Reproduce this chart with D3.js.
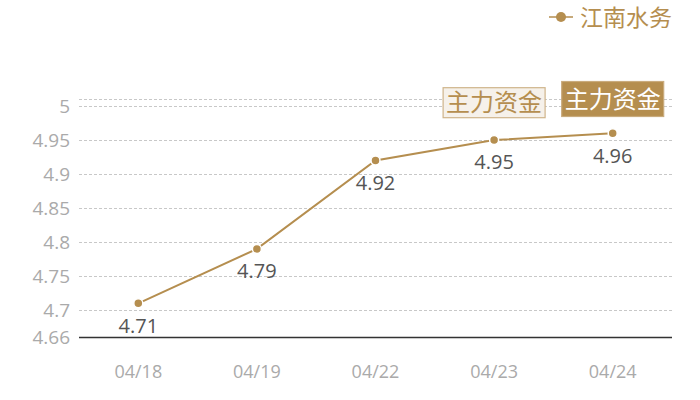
<!DOCTYPE html>
<html><head><meta charset="utf-8">
<script src="https://cdn.jsdelivr.net/npm/d3@7/dist/d3.min.js"></script>
<style>
html,body{margin:0;padding:0;background:#fff;}
svg{display:block;font-family:"Open Sans","Noto Sans CJK SC",sans-serif;}
.cjk{font-family:"Noto Sans CJK SC","Open Sans",sans-serif;}
</style></head><body>
<svg id="c" width="700" height="400"></svg>
<script>
const categories = ["04/18","04/19","04/22","04/23","04/24"];
const values = [4.71, 4.79, 4.92, 4.95, 4.96];
const seriesName = "江南水务";
const yTicks = [4.66, 4.7, 4.75, 4.8, 4.85, 4.9, 4.95, 5];
const yTickLabels = ["4.66","4.7","4.75","4.8","4.85","4.9","4.95","5"];
const annotationCats = ["04/23","04/24"];
const annotationText = "主力资金";

const gold = "#b58e4f";
const svg = d3.select("#c");
const x = d3.scaleBand().domain(categories).range([79, 672]);
const y = d3.scaleLinear().domain([4.66, 5.01]).range([337.3, 99.3]);

// grid
const grid = yTicks.slice(1).concat([5.01]);
svg.append("g").selectAll("line").data(grid).join("line")
  .attr("x1", 79).attr("x2", 672)
  .attr("y1", d => Math.round(y(d)) + 0.5).attr("y2", d => Math.round(y(d)) + 0.5)
  .attr("stroke", "#c8c8c8").attr("stroke-width", 1).attr("stroke-dasharray", "3,2");

// y labels
svg.append("g").selectAll("text").data(yTicks).join("text")
  .attr("x", 70).attr("y", d => y(d)).attr("dy", "0.36em")
  .attr("text-anchor", "end").attr("fill", "#aaaaaa").attr("font-size", 19)
  .text((d, i) => yTickLabels[i]);

// x axis
svg.append("line").attr("x1", 79).attr("x2", 672)
  .attr("y1", 337.5).attr("y2", 337.5).attr("stroke", "#333").attr("stroke-width", 1.3);
svg.append("g").selectAll("text").data(categories).join("text")
  .attr("x", d => x(d) + x.bandwidth() / 2).attr("y", 372).attr("dy", "0.36em")
  .attr("text-anchor", "middle").attr("fill", "#aaaaaa").attr("font-size", 18)
  .text(d => d);

// line
const line = d3.line().x((d, i) => x(categories[i]) + x.bandwidth() / 2).y(d => y(d));
svg.append("path").datum(values).attr("d", line)
  .attr("fill", "none").attr("stroke", gold).attr("stroke-width", 2);
svg.append("g").selectAll("circle").data(values).join("circle")
  .attr("cx", (d, i) => x(categories[i]) + x.bandwidth() / 2).attr("cy", d => y(d))
  .attr("r", 4.5).attr("fill", gold).attr("stroke", "#fff").attr("stroke-width", 1.5);
svg.append("g").selectAll("text").data(values).join("text")
  .attr("x", (d, i) => x(categories[i]) + x.bandwidth() / 2).attr("y", d => y(d) + 22)
  .attr("dy", "0.36em").attr("text-anchor", "middle").attr("fill", "#555").attr("font-size", 20)
  .text(d => d.toFixed(2));

// annotations
const ann = svg.append("g").attr("class", "cjk");
annotationCats.forEach((c, i) => {
  const cx = x(c) + x.bandwidth() / 2;
  const filled = i === annotationCats.length - 1;
  const cy = filled ? 99 : 102.7;
  const h = filled ? 35 : 30;
  ann.append("rect").attr("x", cx - 51).attr("y", cy - h / 2).attr("width", 102).attr("height", h)
    .attr("fill", filled ? gold : "#f6f1ea").attr("stroke", filled ? "#c9ab7d" : "#cfb48a").attr("stroke-width", 1.2);
  ann.append("text").attr("x", cx).attr("y", cy).attr("dy", "0.36em").attr("text-anchor", "middle")
    .attr("font-size", 24).attr("fill", filled ? "#fff" : gold).text(annotationText);
});

// legend
const lg = svg.append("g").attr("class", "cjk");
lg.append("line").attr("x1", 549).attr("x2", 573).attr("y1", 17).attr("y2", 17).attr("stroke", gold).attr("stroke-width", 1.5);
lg.append("circle").attr("cx", 561).attr("cy", 17).attr("r", 5).attr("fill", gold);
lg.append("text").attr("x", 580).attr("y", 18).attr("dy", "0.36em").attr("font-size", 23).attr("fill", gold).text(seriesName);
</script>
</body></html>
